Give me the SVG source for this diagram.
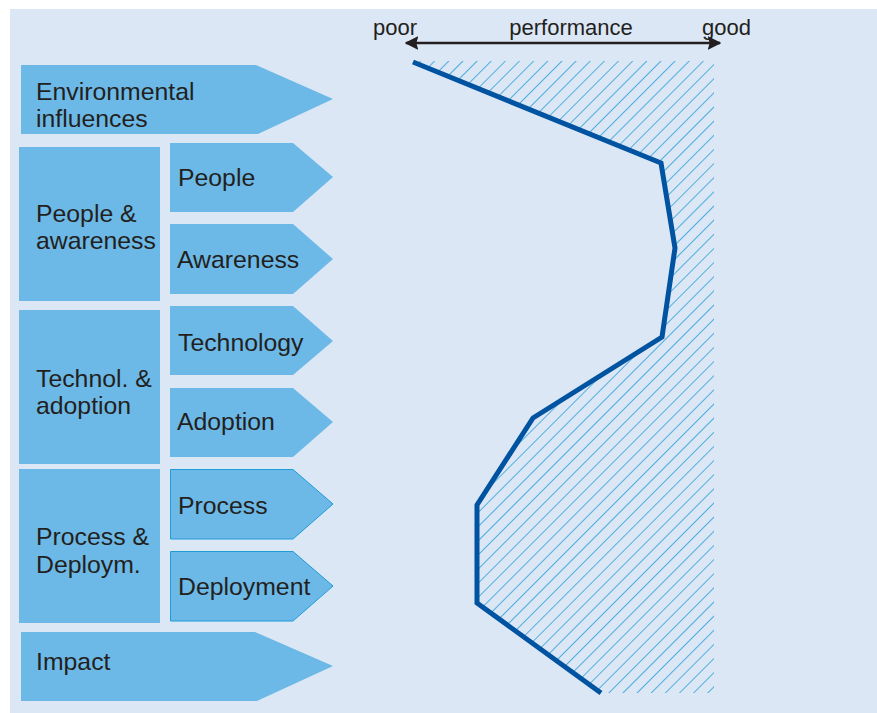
<svg xmlns="http://www.w3.org/2000/svg" width="877" height="713" viewBox="0 0 877 713">
<style>
.bg{fill:#dce7f5}
.box{fill:#6cb9e7}
.bd{stroke:#1f9bd7;stroke-width:1}
.t{font-family:"Liberation Sans",Arial,sans-serif;font-size:24.8px;fill:#231f20}
.ax{font-family:"Liberation Sans",Arial,sans-serif;font-size:22px;fill:#231f20}
</style>
<defs>
<pattern id="hatch" width="10" height="10" patternUnits="userSpaceOnUse" patternTransform="rotate(45)">
<line x1="0" y1="0" x2="0" y2="10" stroke="#1d9ad9" stroke-width="1.5"/>
</pattern>
<marker id="ah" viewBox="0 0 10 10" refX="9" refY="5" markerWidth="5.5" markerHeight="5.5" orient="auto-start-reverse" markerUnits="strokeWidth">
<path d="M0,0 L10,5 L0,10 L1.5,5 Z" fill="#231f20"/>
</marker>
</defs>
<rect class="bg" x="10" y="9" width="867" height="704"/>

<g id="env"><polygon class="box" points="21,65 256,65 333,99 258,134 21,134"/><text class="t" x="36" y="100">Environmental</text><text class="t" x="36" y="127">influences</text></g>

<g id="people-awareness"><rect class="box" x="19" y="147" width="141" height="154"/><text class="t" x="36" y="222">People &amp;</text><text class="t" x="36" y="249">awareness</text></g>
<g id="people"><polygon class="box" points="170,143 293,143 333,177 293,212 170,212"/><text class="t" x="178" y="186">People</text></g>
<g id="awareness"><polygon class="box" points="170,224 293,224 333,259 293,294 170,294"/><text class="t" x="177" y="268">Awareness</text></g>

<g id="technol-adoption"><rect class="box" x="19" y="310" width="141" height="154"/><text class="t" x="36" y="387">Technol. &amp;</text><text class="t" x="36" y="414">adoption</text></g>
<g id="technology"><polygon class="box" points="170,306 293,306 333,341 293,375 170,375"/><text class="t" x="178" y="351">Technology</text></g>
<g id="adoption"><polygon class="box" points="170,388 293,388 333,422 293,457 170,457"/><text class="t" x="177" y="430">Adoption</text></g>

<g id="process-deploym"><rect class="box" x="19" y="469" width="141" height="154"/><text class="t" x="36" y="545">Process &amp;</text><text class="t" x="36" y="573">Deploym.</text></g>
<g id="process"><polygon class="box bd" points="170.5,469.5 293,469.5 333,504 293,539 170.5,539"/><text class="t" x="178" y="514">Process</text></g>
<g id="deployment"><polygon class="box bd" points="170.5,551.5 293,551.5 333,586 293,621 170.5,621"/><text class="t" x="178" y="595">Deployment</text></g>

<g id="impact"><polygon class="box" points="21,632 255,632 333,666 257,701 21,701"/><text class="t" x="36" y="670">Impact</text></g>

<g id="chart">
<polygon fill="url(#hatch)" points="413,61 661,163 675,248 662,337 533,418 477,505 477,603 601,693 714,693 714,61"/>
<polyline fill="none" stroke="#0053a0" stroke-width="5" stroke-linejoin="miter" points="413,62 661,163 675,248 662,337 533,418 477,505 477,603 601,693"/>
</g>

<g id="connectors">
<line x1="406" y1="43" x2="720" y2="43" stroke="#231f20" stroke-width="2.5" marker-start="url(#ah)" marker-end="url(#ah)"/>
</g>
<text class="ax" x="373" y="35">poor</text>
<text class="ax" x="571" y="35" text-anchor="middle">performance</text>
<text class="ax" x="702" y="35">good</text>
</svg>
